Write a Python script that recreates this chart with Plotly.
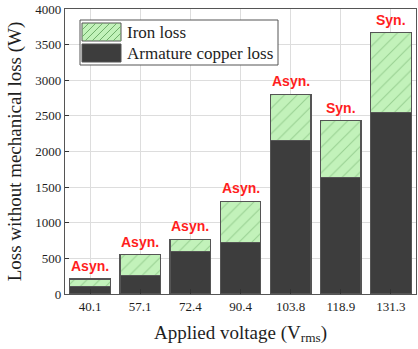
import plotly.graph_objects as go

voltages = ["40.1", "57.1", "72.4", "90.4", "103.8", "118.9", "131.3"]
copper_loss = [100, 260, 600, 720, 2150, 1640, 2550]
total_loss = [210, 550, 770, 1300, 2805, 2430, 3670]
iron_loss = [t - c for t, c in zip(total_loss, copper_loss)]
mode_labels = ["Asyn.", "Asyn.", "Asyn.", "Asyn.", "Asyn.", "Syn.", "Syn."]
y_ticks = [0, 500, 1000, 1500, 2000, 2500, 3000, 3500, 4000]
legend_names = ["Iron loss", "Armature copper loss"]

serif = "Liberation Serif"
green = "#c2f2ba"
hatch = "#6fae6a"
dark = "#3d3d3d"
edge = "#555555"
txt = "#1e1e1e"

W, H = 418, 349
ML, MR, MT, MB = 65, 2, 9, 55
PW, PH = W - ML - MR, H - MT - MB

fig = go.Figure()
fig.add_trace(go.Bar(
    x=voltages, y=copper_loss, name=legend_names[1],
    marker=dict(color=dark, line=dict(color=edge, width=1.2)),
))
fig.add_trace(go.Bar(
    x=voltages, y=iron_loss, name=legend_names[0],
    marker=dict(color=green, line=dict(color=edge, width=1.2),
                pattern=dict(shape="/", fgcolor=hatch, bgcolor=green, size=9, solidity=0.12)),
))

for i, (t, lab) in enumerate(zip(total_loss, mode_labels)):
    fig.add_annotation(x=i, y=t, text="<b>" + lab + "</b>", showarrow=False,
                       yanchor="bottom", yshift=3,
                       font=dict(family="Liberation Sans", size=14, color="#ff1e1e"))

def px(x):
    return (x - ML) / PW

def py(y):
    return (H - MB - y) / PH

fig.add_shape(type="rect", xref="paper", yref="paper", x0=px(80), x1=px(278), y0=py(65), y1=py(20),
              fillcolor="white", line=dict(color=edge, width=1), layer="above")
sx0, sx1 = 82, 121
sw = [(23, 41), (44, 62)]
fig.add_shape(type="rect", xref="paper", yref="paper", x0=px(sx0), x1=px(sx1), y0=py(sw[0][1]), y1=py(sw[0][0]),
              fillcolor=green, line=dict(color=edge, width=1), layer="above")
ya, yb = sw[0]
hgt = yb - ya
segs = []
k = sx0 - hgt
while k < sx1:
    xa, ya_ = k, yb
    xb, yb_ = k + hgt, ya
    if xa < sx0:
        ya_ = yb - (sx0 - xa)
        xa = sx0
    if xb > sx1:
        yb_ = ya + (xb - sx1)
        xb = sx1
    if xb > xa:
        segs.append("M %.5f %.5f L %.5f %.5f" % (px(xa), py(ya_), px(xb), py(yb_)))
    k += 7
fig.add_shape(type="path", xref="paper", yref="paper", path=" ".join(segs),
              line=dict(color=hatch, width=1), layer="above")
fig.add_shape(type="rect", xref="paper", yref="paper", x0=px(sx0), x1=px(sx1), y0=py(sw[1][1]), y1=py(sw[1][0]),
              fillcolor=dark, line=dict(color=edge, width=1), layer="above")
for name, (a, b) in zip(legend_names, sw):
    fig.add_annotation(xref="paper", yref="paper", x=px(125), y=py((a + b) / 2), text=name,
                       showarrow=False, xanchor="left", yanchor="middle",
                       font=dict(family=serif, size=17, color=txt))

fig.update_layout(
    width=W, height=H,
    margin=dict(l=ML, r=MR, t=MT, b=MB),
    barmode="stack", bargap=0.19,
    plot_bgcolor="white", paper_bgcolor="white",
    font=dict(family=serif, color=txt),
    showlegend=False,
)
fig.update_xaxes(
    type="category", range=[-0.5, len(voltages) - 0.5],
    showline=True, linecolor=edge, linewidth=1.2, mirror=True,
    showgrid=True, gridcolor="#dddddd", gridwidth=1,
    ticks="inside", ticklen=5, tickcolor="#333333",
    tickfont=dict(family=serif, size=13, color=txt),
    title=dict(text="Applied voltage (V<sub>rms</sub>)", font=dict(family=serif, size=19, color=txt), standoff=12),
)
fig.update_yaxes(
    range=[0, 4000], tickvals=y_ticks,
    showline=True, linecolor=edge, linewidth=1.2, mirror=True,
    showgrid=True, gridcolor="#dddddd", gridwidth=1,
    ticks="inside", ticklen=4, tickcolor="#333333",
    tickfont=dict(family=serif, size=13, color=txt),
    title=dict(text="Loss without mechanical loss (W)", font=dict(family=serif, size=19, color=txt), standoff=8),
)

fig.write_html("out.html")
